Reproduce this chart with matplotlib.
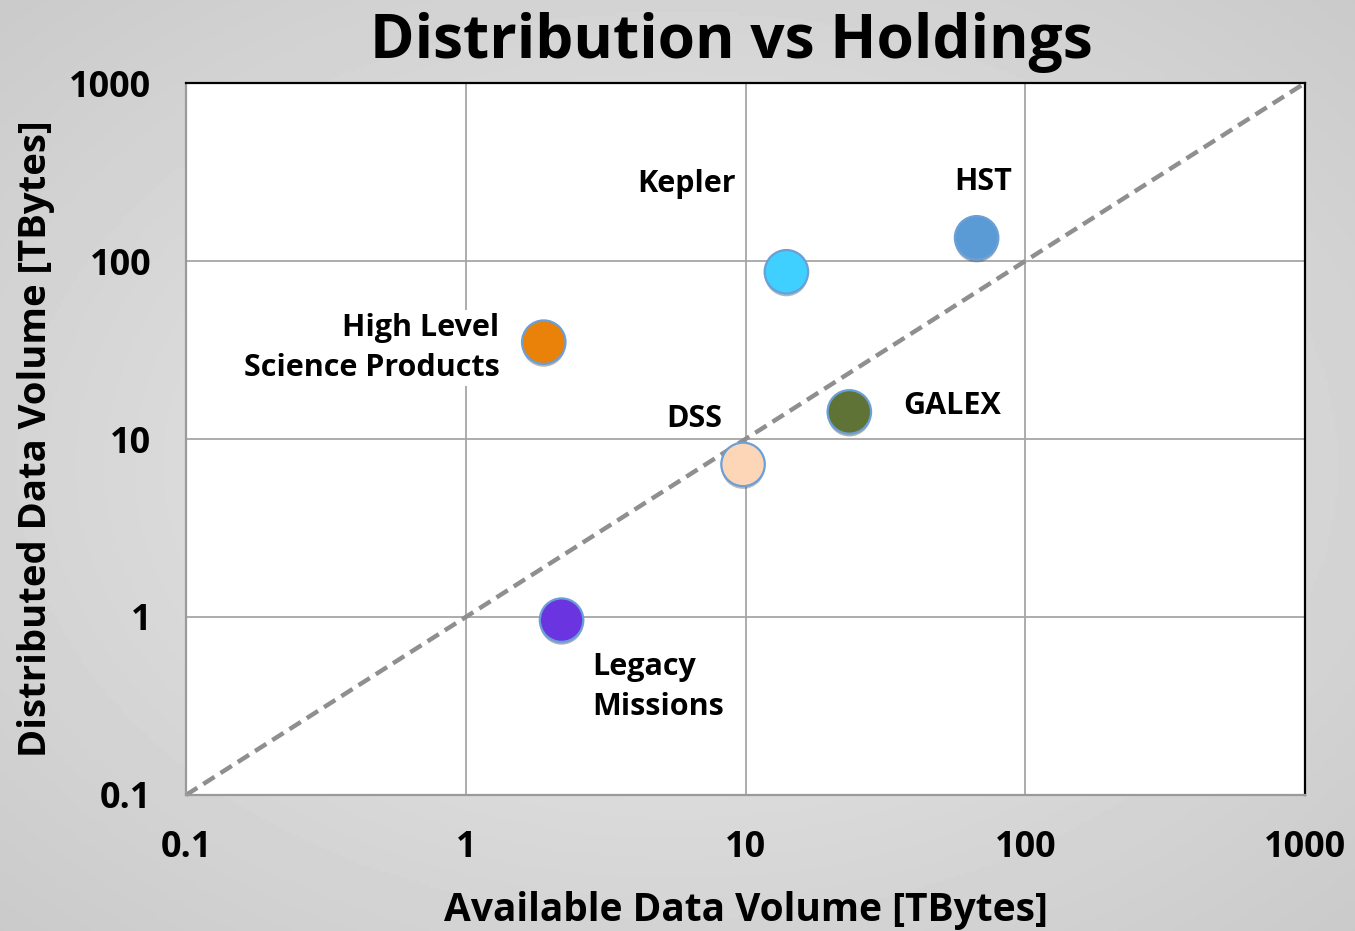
import numpy as np
import matplotlib
matplotlib.use('Agg')
import matplotlib.pyplot as plt
import matplotlib.patheffects as pe

plt.rcParams['font.family'] = ['Open Sans', 'DejaVu Sans']
plt.rcParams['font.weight'] = 'bold'

# Data
missions = ['HST', 'Kepler', 'High Level\nScience Products', 'GALEX', 'DSS', 'Legacy\nMissions']
available_tb = [67, 14, 1.9, 23.5, 9.8, 2.2]
distributed_tb = [135, 87, 35, 14.2, 7.2, 0.96]
colors = ['#5b9bd5', '#3fd0ff', '#ea8109', '#5e7335', '#fcd6b6', '#6a34e0']
tick_values = [0.1, 1, 10, 100, 1000]
tick_labels = ['0.1', '1', '10', '100', '1000']

# label placement relative to each marker (points) and alignment
label_offsets = [(5, 40), (-72, 63), (-32, -4), (39, 4), (-35, 33), (22, -48)]
label_align = ['center', 'center', 'right', 'left', 'center', 'left']


def draw_background(fig) -> None:
    """
    Paint a soft grey radial gradient behind the whole figure
    """
    bg = fig.add_axes([0, 0, 1, 1], zorder=-10)
    yy, xx = np.mgrid[-1:1:300j, -1:1:400j]
    r = np.sqrt(xx ** 2 + yy ** 2)
    shade = 0.92 - 0.09 * r
    bg.imshow(shade, cmap='gray', vmin=0, vmax=1, aspect='auto', extent=[0, 1, 0, 1])
    bg.axis('off')


fig = plt.figure(figsize=(13.55, 9.31), dpi=100)
draw_background(fig)

ax = fig.add_axes([0.1373, 0.1461, 0.8258, 0.7647])
ax.set_facecolor('white')
ax.set_xscale('log')
ax.set_yscale('log')
ax.set_xlim(0.1, 1000)
ax.set_ylim(0.1, 1000)
ax.set_xticks(tick_values, tick_labels)
ax.set_yticks(tick_values, tick_labels)
ax.minorticks_off()
ax.tick_params(length=0, labelsize=26, pad=25)
ax.grid(True, color='#a6a6a6', lw=1.3)
ax.set_axisbelow(True)
for side in ['top', 'right']:
    ax.spines[side].set_color('black')
    ax.spines[side].set_linewidth(1.6)
for side in ['left', 'bottom']:
    ax.spines[side].set_color('#9a9a9a')
    ax.spines[side].set_linewidth(1.6)

# 1:1 line
ax.plot([0.1, 1000], [0.1, 1000], ls=(0, (3, 1.6)), color='#8f8f8f', lw=3.2,
        clip_on=False, zorder=2)

shadow = [pe.SimplePatchShadow(offset=(0, -2), alpha=0.35), pe.Normal()]
for name, x, y, c, off, ha in zip(missions, available_tb, distributed_tb, colors,
                                  label_offsets, label_align):
    ax.scatter([x], [y], s=980, color=c, edgecolor='#6a9fd8', linewidth=1.6,
               zorder=4, path_effects=shadow, clip_on=False)
    ax.annotate(name, (x, y), xytext=off, textcoords='offset points',
                ha=ha, va='center', fontsize=22, fontweight='bold',
                linespacing=1.45, zorder=5,
                bbox=dict(facecolor='white', edgecolor='none', pad=2))

ax.set_title('Distribution vs Holdings', fontsize=43.5, fontweight='bold', pad=18, x=0.487)
ax.set_xlabel('Available Data Volume [TBytes]', fontsize=28, fontweight='bold', labelpad=18)
ax.set_ylabel('Distributed Data Volume [TBytes]', fontsize=27.5, fontweight='bold', labelpad=10)

fig.savefig('out.png', dpi=100)
